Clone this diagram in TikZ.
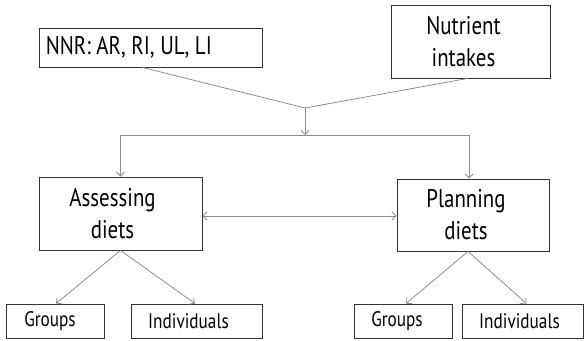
\documentclass[tikz,border=0pt]{standalone}
\usepackage{fontspec}
\setmainfont{PT Sans}[FakeStretch=0.82]
\usetikzlibrary{arrows.meta}
\begin{document}
\begin{tikzpicture}[x=1pt,y=-1pt,
  box/.style={draw=black!80, line width=0.9pt, minimum width=#1, inner sep=0pt},
  big/.style={font=\fontsize{25.5}{32}\selectfont, align=center, inner sep=0pt},
  small/.style={font=\fontsize{21}{26}\selectfont, inner sep=0pt},
  arr/.style={draw=black!45, line width=0.8pt, -{Straight Barb[length=4pt,width=8pt]}},
  ln/.style={draw=black!45, line width=0.8pt}]
\useasboundingbox (0,0) rectangle (585,340);
% top boxes
\node[box=223, minimum height=39, label={[big, anchor=west]west:\hspace*{7pt}NNR: AR, RI, UL, LI}] (nnr) at (150.5,47.5) {};
\node[box=159, minimum height=73, label={[big, xshift=-7pt]center:Nutrient\\intakes}] (ni) at (470.5,41.5) {};
% middle boxes
\node[box=163, minimum height=73, label={[big, xshift=-8pt]center:Assessing\\diets}] (as) at (120.5,213.5) {};
\node[box=152, minimum height=72, label={[big, xshift=-7pt]center:Planning\\diets}] (pl) at (473,215) {};
% bottom boxes
\node[box=98, minimum height=34, label={[small, xshift=-5pt]center:Groups}] (lg) at (55,321) {};
\node[box=131, minimum height=34, label={[small, xshift=-8pt]center:Individuals}] (li) at (196.5,321) {};
\node[box=98, minimum height=34, label={[small, xshift=-6pt]center:Groups}] (rg) at (403,321) {};
\node[box=121, minimum height=34, label={[small, xshift=-3pt]center:Individuals}] (ri) at (522.5,321) {};
% connectors
\coordinate (j) at (305,108);
\coordinate (sp) at (305,135);
\draw[ln] ([xshift=-8pt]nnr.south) -- (j);
\draw[ln] ([xshift=-3pt]ni.south) -- (j);
\draw[arr] (j) -- (sp);
\draw[arr] (sp) -| (as.north);
\draw[arr] (sp) -| ([xshift=-4pt]pl.north);
\draw[ln, {Straight Barb[length=4pt,width=8pt]}-{Straight Barb[length=4pt,width=8pt]}] (as.east |- 0,216) -- (pl.west |- 0,216);
\draw[arr] (as.south) -- ([xshift=1pt]lg.north);
\draw[arr] (as.south) -- ([xshift=-1.5pt]li.north);
\draw[arr] ([xshift=-5pt]pl.south) -- ([xshift=3pt]rg.north);
\draw[arr] ([xshift=-5pt]pl.south) -- ([xshift=4pt]ri.north);
\end{tikzpicture}
\end{document}
